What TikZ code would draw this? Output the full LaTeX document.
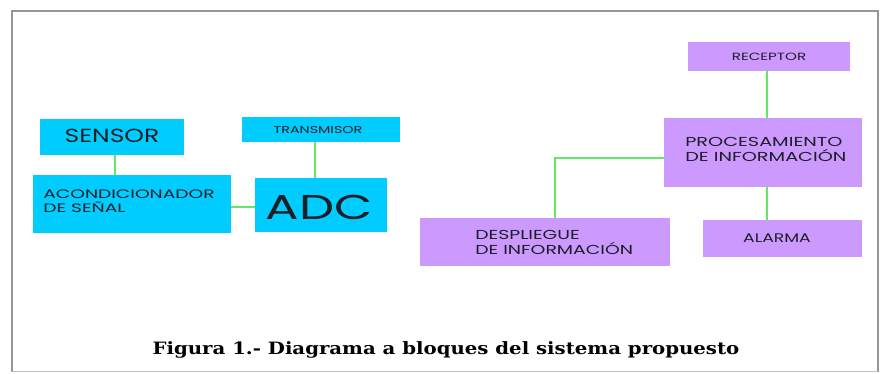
\documentclass[tikz,border=0pt]{standalone}
\usepackage{fontspec}
\newfontfamily\gothic{Poppins}
\newfontfamily\capfont{DejaVu Serif}
\definecolor{cyanbox}{RGB}{0,204,255}
\definecolor{purplebox}{RGB}{204,153,255}
\definecolor{linkgreen}{RGB}{102,230,102}
\definecolor{txt}{RGB}{30,30,40}
\definecolor{frame}{RGB}{150,150,150}
\begin{document}
\begin{tikzpicture}[x=1pt,y=-1pt,
  cbox/.style={fill=cyanbox,draw=none},
  pbox/.style={fill=purplebox,draw=none},
  link/.style={draw=linkgreen,line width=1.3pt},
  lbl/.style={text=txt,inner sep=0pt,transform shape},
]
\useasboundingbox (0,0) rectangle (881,373);
\fill[white] (0,0) rectangle (881,373);
% frame
\draw[frame,line width=1.2pt] (12,372) -- (12,11) -- (878,11) -- (878,372);
\draw[frame!60,line width=1pt] (12,371.5) -- (878,371.5);
% cyan boxes
\path[cbox] (40,119) rectangle (184,155);
\node[lbl,xscale=1.32,font=\gothic\fontsize{19}{18}\selectfont] (sensor) at (112,136) {SENSOR};
\path[cbox] (242,117) rectangle (400,142);
\node[lbl,xscale=1.43,font=\gothic\fontsize{10}{10}\selectfont] (trans) at (318,130) {TRANSMISOR};
\path[cbox] (33,175) rectangle (231,233);
\node[lbl,xscale=1.52,font=\gothic\fontsize{12.3}{14}\selectfont,align=left,anchor=west] (acond) at (43,201) {ACONDICIONADOR\\DE SEÑAL};
\path[cbox] (255,178) rectangle (387,232);
\node[lbl,xscale=1.44,font=\gothic\fontsize{34.5}{34}\selectfont] (adc) at (319,207) {ADC};
% links left
\coordinate (sT) at (115,155); \coordinate (sB) at (115,175);
\draw[link] (sT) -- (sB);
\coordinate (tT) at (315,142); \coordinate (tB) at (315,178);
\draw[link] (tT) -- (tB);
\coordinate (aR) at (231,207); \coordinate (dL) at (255,207);
\draw[link] (aR) -- (dL);
% purple boxes
\path[pbox] (688,42) rectangle (850,71);
\node[lbl,xscale=1.44,font=\gothic\fontsize{10.5}{10}\selectfont] (rec) at (769,57) {RECEPTOR};
\path[pbox] (664,118) rectangle (862,187);
\node[lbl,xscale=1.48,font=\gothic\fontsize{13}{14.5}\selectfont,align=left,anchor=west] (proc) at (685,149.5) {PROCESAMIENTO\\DE INFORMACIÓN};
\path[pbox] (420,218) rectangle (670,266);
\node[lbl,xscale=1.45,font=\gothic\fontsize{13}{15}\selectfont,align=left,anchor=west] (desp) at (475,242) {DESPLIEGUE\\DE INFORMACIÓN};
\path[pbox] (703,220) rectangle (862,257);
\node[lbl,xscale=1.38,font=\gothic\fontsize{12.5}{12}\selectfont] (alarma) at (777,238) {ALARMA};
% links right
\coordinate (rB) at (767,71); \coordinate (pT) at (767,118);
\draw[link] (rB) -- (pT);
\coordinate (pB) at (767,187); \coordinate (alT) at (767,220);
\draw[link] (pB) -- (alT);
\coordinate (pL) at (664,158); \coordinate (dT) at (555,218);
\draw[link] (pL) -- (555,158) -- (dT);
% caption
\node[inner sep=0pt,transform shape,xscale=1.16,font=\capfont\bfseries\fontsize{17}{17}\selectfont] (cap) at (446,350) {Figura 1.- Diagrama a bloques del sistema propuesto};
\end{tikzpicture}
\end{document}
